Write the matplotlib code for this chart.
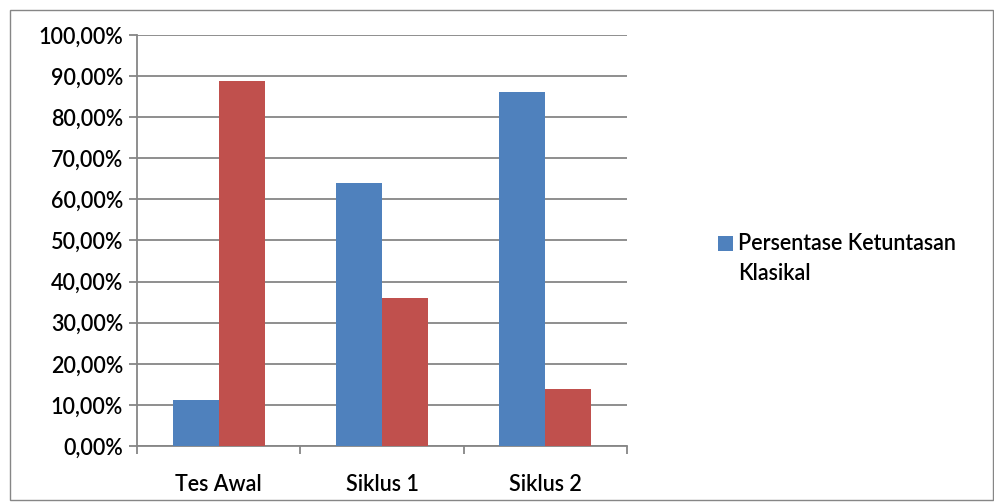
import numpy as np
import matplotlib.pyplot as plt
from matplotlib.patches import Rectangle

categories = ["Tes Awal", "Siklus 1", "Siklus 2"]
tuntas = [11.11, 63.89, 86.11]
tidak_tuntas = [88.89, 36.11, 13.89]
legend_label = "Persentase Ketuntasan\nKlasikal"
y_ticks = [0, 10, 20, 30, 40, 50, 60, 70, 80, 90, 100]

blue = "#4F81BD"
red = "#C0504D"
gray = "#868686"

plt.rcParams['font.family'] = ['Lato', 'DejaVu Sans']
plt.rcParams['font.weight'] = 'semibold'
fs = 15.5

fig = plt.figure(figsize=(9.95, 5.03), dpi=100)
ax = fig.add_axes([137/995, 57/503, 490/995, 411/503])

# outer chart border
fig.patches.append(Rectangle((10/995, 3/503), 983/995, 490/503, transform=fig.transFigure,
                             fill=False, edgecolor=gray, linewidth=1))

x = np.arange(len(categories))
w = 0.282
ax.bar(x - w/2, tuntas, w, color=blue, zorder=3)
ax.bar(x + w/2, tidak_tuntas, w, color=red, zorder=3)

ax.set_xlim(-0.5, 2.5)
ax.set_ylim(0, 100)
ax.set_yticks(y_ticks)
ax.set_yticklabels(["%d,00%%" % v for v in y_ticks], fontsize=fs)
ax.yaxis.grid(True, color=gray, linewidth=1.3, zorder=0)

# category boundary ticks, labels in the middle
ax.set_xticks([-0.5, 0.5, 1.5, 2.5])
ax.set_xticklabels([])
ax.set_xticks(x, minor=True)
ax.set_xticklabels(categories, minor=True, fontsize=fs)
ax.tick_params(axis='x', which='minor', length=0, pad=20)
ax.tick_params(axis='x', which='major', length=6, color=gray, width=1.3, direction='out')
ax.tick_params(axis='y', length=6, color=gray, width=1.3, pad=4)

for s in ["top", "right"]:
    ax.spines[s].set_visible(False)
for s in ["left", "bottom"]:
    ax.spines[s].set_color(gray)
    ax.spines[s].set_linewidth(1.3)

# legend (only the first series), marker next to the first line
fig.patches.append(Rectangle((718/995, 1 - 251/503), 15/995, 15/503, transform=fig.transFigure,
                             facecolor=blue, edgecolor="none"))
fig.text(738/995, 1 - 233/503, legend_label, fontsize=fs, va="top", ha="left", linespacing=1.5)

fig.savefig("out.png", dpi=100)
